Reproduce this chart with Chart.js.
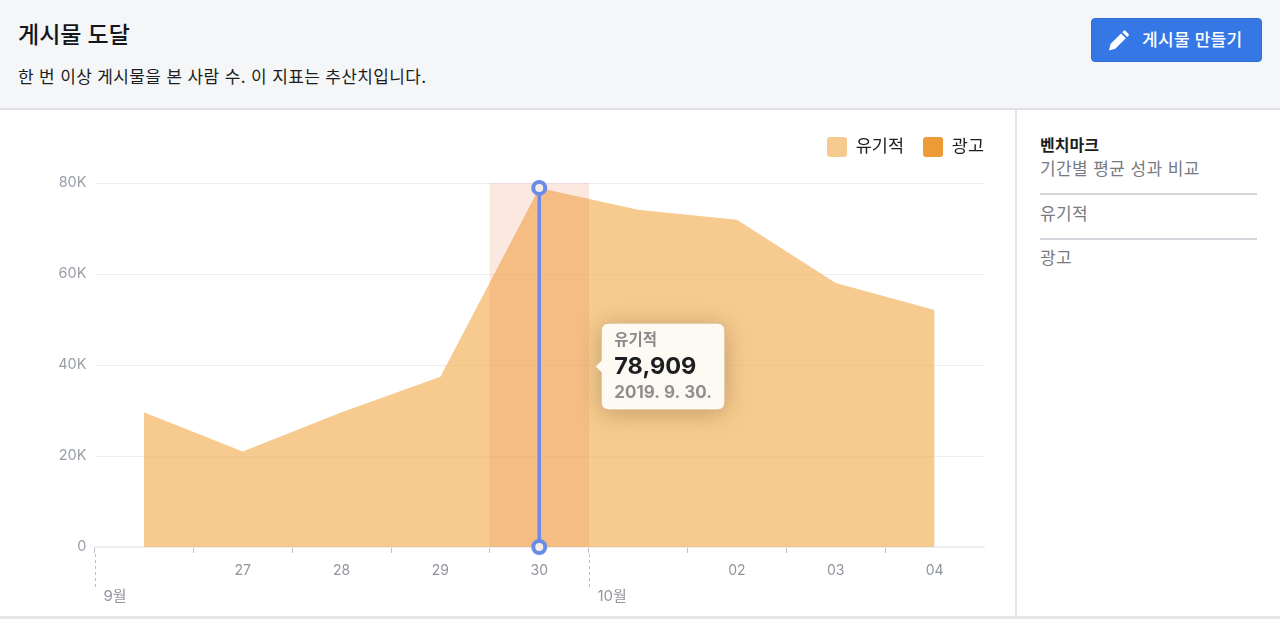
<!DOCTYPE html>
<html lang="ko">
<head>
<meta charset="utf-8">
<title>게시물 도달</title>
<script src="https://cdn.jsdelivr.net/npm/chart.js@4"></script>
<style>
    * { box-sizing: border-box; }
    html, body { margin: 0; padding: 0; background: #fff; overflow: hidden; }
    body { width: 1280px; height: 619px; position: relative; font-family: Inter, "Noto Sans CJK KR", sans-serif; }
    .header { position: absolute; left: 0; top: 0; width: 1280px; height: 110px; background: #f5f6f8; border-bottom: 2px solid #dfe1e5; }
    .header h1 { position: absolute; left: 18px; top: 19px; margin: 0; font-size: 23px; line-height: 32px; font-weight: 500; color: #14161a; }
    .header p { position: absolute; left: 18px; top: 65px; margin: 0; font-size: 17px; letter-spacing: 0.35px; line-height: 24px; color: #1c1e21; }
    .btn { position: absolute; left: 1091px; top: 18px; width: 171px; height: 44px; background: #3578e5; border: 1px solid #2f6fd8; border-radius: 4px; color: #fff; font-size: 17px; letter-spacing: 0.3px; font-weight: 500; line-height: 42px; padding-left: 50px; white-space: nowrap; }
    .btn svg { position: absolute; left: 17px; top: 11px; }
    .chart-box { position: absolute; left: 0; top: 110px; width: 1015px; height: 507px; }
    .side { position: absolute; left: 1015px; top: 110px; width: 265px; height: 506px; border-left: 2px solid #e4e6ea; }
    .side div { position: absolute; left: 23px; width: 217px; white-space: nowrap; font-size: 17px; letter-spacing: 0.4px; line-height: 24px; color: #777a81; }
    .side .bold { top: 23px; font-size: 16px; letter-spacing: 0; font-weight: 700; color: #1c1e21; }
    .side hr { position: absolute; left: 23px; width: 217px; margin: 0; border: 0; height: 2px; background: #d3d5da; }
    .foot { position: absolute; left: 0; top: 616px; width: 1280px; height: 3px; background: #e4e6ea; }
</style>
</head>
<body>
<div class="header">
    <h1>게시물 도달</h1>
    <p>한 번 이상 게시물을 본 사람 수. 이 지표는 추산치입니다.</p>
    <div class="btn">
        <svg width="21" height="21" viewBox="0 0 21 21"><path fill="#fff" d="M0 20.5 L1.5 14 L12 3.5 L16.8 8.3 L6.3 18.8 Z"/><path fill="#fff" d="M13.3 2.2 L14.8 0.7 Q15.6 0 16.4 0.7 L19.6 3.9 Q20.3 4.7 19.6 5.5 L18.1 7 Z"/></svg>
        게시물 만들기
    </div>
</div>
<div class="chart-box"><canvas id="reachChart"></canvas></div>
<div class="side">
    <div class="bold">벤치마크</div>
    <div style="top:47px">기간별 평균 성과 비교</div>
    <hr style="top:83px">
    <div style="top:92px">유기적</div>
    <hr style="top:128px">
    <div style="top:136px">광고</div>
</div>
<div class="foot"></div>

<script>
const days = ['26', '27', '28', '29', '30', '01', '02', '03', '04'];
const hiddenDays = ['26', '01'];
const organicValues = [29600, 21000, 29600, 37400, 78909, 74100, 71900, 58000, 52100];
const adValues = [null, null, null, null, null, null, null, null, null];
const highlightValues = [null, null, null, null, 80000, null, null, null, null];
const crosshairDay = '30';
const crosshairValues = [78909, 0];
const yTicks = [0, 20000, 40000, 60000, 80000];
const monthLabels = ['9월', '10월'];
const monthStartDays = ['26', '01'];

const fontStack = 'Inter, "Noto Sans CJK KR", sans-serif';
const legendPadding = 19;

// legend sits higher than the default gap and flush with the plot's right edge
const legendTweak = {
    id: 'legendTweak',
    beforeInit(chart) {
        const originalFit = chart.legend.fit;
        chart.legend.fit = function fit() {
            originalFit.bind(chart.legend)();
            this.height += 16;
        };
    },
    afterLayout(chart) {
        chart.legend.right += legendPadding;
    }
};

// month separators under the axis: dashed line plus label
const monthMarks = {
    id: 'monthMarks',
    afterDraw(chart) {
        const { ctx, scales: { x } } = chart;
        const half = x.width / days.length / 2;
        ctx.save();
        ctx.lineWidth = 1;
        ctx.strokeStyle = '#bcbfc4';
        ctx.setLineDash([3, 3]);
        ctx.fillStyle = '#90949c';
        ctx.font = '15px ' + fontStack;
        ctx.textBaseline = 'middle';
        monthLabels.forEach((label, i) => {
            const px = Math.round(x.getPixelForValue(days.indexOf(monthStartDays[i])) - half) + 0.5;
            ctx.beginPath();
            ctx.moveTo(px, x.top + 7);
            ctx.lineTo(px, x.top + 43);
            ctx.stroke();
            ctx.fillText(label, px + 8, x.top + 49);
        });
        ctx.restore();
    }
};

// soft shadow behind the tooltip box
const tooltipShadow = {
    id: 'tooltipShadow',
    beforeTooltipDraw(chart, args) {
        const { ctx } = chart;
        const t = args.tooltip;
        ctx.save();
        ctx.shadowColor = 'rgba(90,60,20,0.35)';
        ctx.shadowBlur = 24;
        ctx.shadowOffsetY = 3;
        ctx.fillStyle = '#fdfaf4';
        ctx.beginPath();
        ctx.roundRect(t.x, t.y, t.width, t.height, 8);
        ctx.fill();
        ctx.restore();
    }
};

Chart.Tooltip.positioners.fixedRight = function (items) {
    if (!items.length) return false;
    const { chartArea } = this.chart;
    return { x: items[0].element.x + 56, y: (chartArea.top + chartArea.bottom) / 2 + 1.5, xAlign: 'left', yAlign: 'center' };
};

const ctx = document.getElementById('reachChart').getContext('2d');
const reachChart = new Chart(ctx, {
    data: {
        labels: days,
        datasets: [
            {
                type: 'line',
                label: '유기적',
                data: organicValues,
                backgroundColor: 'rgba(244,181,96,0.7)',
                borderWidth: 0,
                fill: 'origin',
                pointRadius: 0,
                tension: 0,
                order: 3
            },
            {
                type: 'line',
                label: '광고',
                data: adValues,
                backgroundColor: '#ed9b36',
                borderWidth: 0,
                pointRadius: 0,
                order: 4
            },
            {
                type: 'bar',
                label: 'highlight',
                data: highlightValues,
                backgroundColor: 'rgba(232,120,80,0.17)',
                barPercentage: 1,
                categoryPercentage: 1,
                order: 2
            },
            {
                type: 'line',
                label: 'crosshair',
                data: crosshairValues.map(v => ({ x: crosshairDay, y: v })),
                borderColor: '#6a8ce8',
                borderWidth: 3.5,
                pointRadius: 6,
                pointBorderWidth: 4,
                pointBorderColor: '#6a8ce8',
                pointBackgroundColor: '#f8ede4',
                clip: false,
                order: 1
            }
        ]
    },
    options: {
        responsive: true,
        maintainAspectRatio: false,
        animation: false,
        events: [],
        layout: { padding: { top: 8, right: 31 } },
        scales: {
            x: {
                type: 'category',
                offset: true,
                afterFit(scale) { scale.height = 70; },
                grid: {
                    offset: true,
                    drawOnChartArea: false,
                    tickLength: 6,
                    tickWidth: 1,
                    tickColor: c => (c.tick ? '#bfc2c7' : 'transparent')
                },
                border: { color: '#eceef0', width: 2 },
                ticks: {
                    autoSkip: false,
                    maxRotation: 0,
                    padding: 9,
                    color: '#90949c',
                    font: { family: fontStack, size: 14 },
                    callback(value) {
                        const day = this.getLabelForValue(value);
                        return hiddenDays.includes(day) ? '' : day;
                    }
                }
            },
            y: {
                min: 0,
                max: 80000,
                afterFit(scale) { scale.width = 94.5; },
                afterBuildTicks(scale) { scale.ticks = yTicks.map(v => ({ value: v })); },
                border: { display: false },
                grid: { color: '#eeeff2', drawTicks: false },
                ticks: {
                    padding: 8,
                    color: '#9a9ea8',
                    font: { family: fontStack, size: 14.5 },
                    callback: value => (value === 0 ? '0' : value / 1000 + 'K')
                }
            }
        },
        plugins: {
            legend: {
                position: 'top',
                align: 'end',
                labels: {
                    boxWidth: 20,
                    boxHeight: 20,
                    padding: legendPadding,
                    color: '#1c1e21',
                    useBorderRadius: true,
                    borderRadius: 3,
                    font: { family: fontStack, size: 17.5 },
                    filter: item => item.text === '유기적' || item.text === '광고'
                }
            },
            tooltip: {
                enabled: true,
                position: 'fixedRight',
                filter: item => item.datasetIndex === 0,
                backgroundColor: '#fdfaf4',
                borderColor: '#d9b98c',
                borderWidth: 1,
                cornerRadius: 8,
                caretSize: 6,
                caretPadding: 0,
                padding: { left: 13, right: 13, top: 8, bottom: 7 },
                displayColors: false,
                titleColor: '#8a8a8a',
                titleFont: { family: fontStack, size: 15.5, weight: 'bold' },
                titleMarginBottom: 3,
                bodyColor: '#1c1e21',
                bodyFont: { family: fontStack, size: 23.5, weight: 'bold' },
                footerColor: '#8f8f8f',
                footerFont: { family: fontStack, size: 17, weight: 'bold' },
                footerMarginTop: 1.5,
                callbacks: {
                    title: () => '유기적',
                    label: item => item.parsed.y.toLocaleString('en-US'),
                    footer: () => '2019. 9. 30.'
                }
            }
        }
    },
    plugins: [legendTweak, monthMarks, tooltipShadow]
});

reachChart.tooltip.setActiveElements([{ datasetIndex: 0, index: days.indexOf(crosshairDay) }], { x: 0, y: 0 });
reachChart.update();
</script>
</body>
</html>
